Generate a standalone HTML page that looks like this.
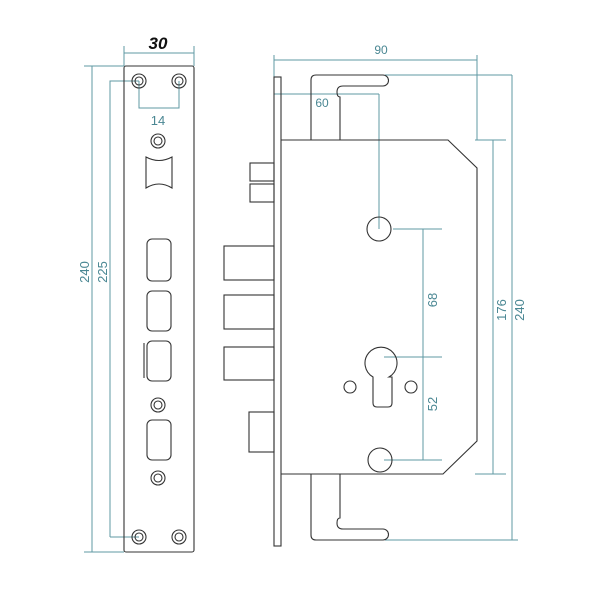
<!DOCTYPE html>
<html><head><style>
html,body{margin:0;padding:0;background:#fff;}
svg{display:block;}
text{font-family:"Liberation Sans",sans-serif;}
</style></head><body>
<svg width="600" height="600" viewBox="0 0 600 600" xmlns="http://www.w3.org/2000/svg">
<g fill="none" stroke="#5f98a3" stroke-width="1">
  <line x1="124" y1="53" x2="194" y2="53"/>
  <line x1="124" y1="46" x2="124" y2="66"/><line x1="194" y1="46" x2="194" y2="66"/>
  <line x1="84" y1="66" x2="124" y2="66"/><line x1="84" y1="552" x2="124" y2="552"/>
  <line x1="92" y1="66" x2="92" y2="552"/>
  <polyline points="110,537 110,81 139,81"/>
  <line x1="110" y1="537" x2="139" y2="537"/>
  <polyline points="139,81 139,108 179,108 179,81"/>
  <line x1="274" y1="60" x2="477" y2="60"/>
  <line x1="274" y1="55" x2="274" y2="77"/><line x1="477" y1="55" x2="477" y2="140"/>
  <line x1="274" y1="94" x2="379" y2="94"/>
  <line x1="379" y1="94" x2="379" y2="229"/>
  <line x1="393" y1="229" x2="442" y2="229"/>
  <line x1="384" y1="357" x2="442" y2="357"/>
  <line x1="384" y1="460" x2="442" y2="460"/>
  <line x1="423" y1="229" x2="423" y2="460"/>
  <line x1="475" y1="140" x2="506" y2="140"/><line x1="475" y1="474" x2="506" y2="474"/>
  <line x1="493" y1="140" x2="493" y2="474"/>
  <line x1="385" y1="75" x2="512" y2="75"/><line x1="385" y1="540" x2="518" y2="540"/>
  <line x1="512" y1="75" x2="512" y2="540"/>
</g>
<g fill="#4a8793" font-size="13">
  <text x="381" y="54" text-anchor="middle" font-size="12">90</text>
  <text x="322" y="107" text-anchor="middle" font-size="12">60</text>
  <text x="158" y="125" text-anchor="middle">14</text>
  <text transform="translate(89,272) rotate(-90)" text-anchor="middle">240</text>
  <text transform="translate(107,272) rotate(-90)" text-anchor="middle">225</text>
  <text transform="translate(437,300) rotate(-90)" text-anchor="middle">68</text>
  <text transform="translate(437,404) rotate(-90)" text-anchor="middle">52</text>
  <text transform="translate(506,310) rotate(-90)" text-anchor="middle">176</text>
  <text transform="translate(524,310) rotate(-90)" text-anchor="middle">240</text>
</g>
<text x="158" y="49" text-anchor="middle" font-size="17" font-weight="bold" font-style="italic" fill="#111">30</text>
<g fill="none" stroke="#333" stroke-width="1.1">
  <rect x="124" y="66" width="70" height="486" rx="2"/>
  <circle cx="139" cy="81" r="7"/><circle cx="139" cy="81" r="4"/>
  <circle cx="179" cy="81" r="7"/><circle cx="179" cy="81" r="4"/>
  <circle cx="139" cy="537" r="7"/><circle cx="139" cy="537" r="4"/>
  <circle cx="179" cy="537" r="7"/><circle cx="179" cy="537" r="4"/>
  <circle cx="158" cy="141" r="7"/><circle cx="158" cy="141" r="4"/>
  <circle cx="158" cy="405" r="7"/><circle cx="158" cy="405" r="4"/>
  <circle cx="158" cy="478" r="7"/><circle cx="158" cy="478" r="4"/>
  <path d="M146,157 Q159,164 172,157 L172,188 Q159,180 146,188 Z"/>
  <rect x="147" y="239" width="24" height="42" rx="5"/>
  <rect x="147" y="291" width="24" height="40" rx="5"/>
  <rect x="147" y="341" width="24" height="40" rx="5"/>
  <line x1="144" y1="343" x2="144" y2="378"/>
  <rect x="147" y="420" width="24" height="40" rx="5"/>
  <rect x="274" y="77" width="7" height="469"/>
  <path d="M281,140 L448,140 L477,168 L477,441 L443,474 L281,474"/>
  <path d="M311,140 L311,80 Q311,75 316,75 L383,75 A5.5,5.5 0 0 1 383,86 L343,86 Q337,86 337,92 Q337,97 340,97 L340,140"/>
  <path d="M311,474 L311,535 Q311,540 316,540 L383,540 A5.5,5.5 0 0 0 383,529 L343,529 Q337,529 337,523 Q337,518 340,518 L340,474"/>
  <rect x="250" y="163" width="24" height="18"/>
  <rect x="250" y="184" width="24" height="18"/>
  <rect x="224" y="246" width="50" height="34"/>
  <rect x="224" y="295" width="50" height="34"/>
  <rect x="224" y="347" width="50" height="33"/>
  <rect x="249" y="412" width="25" height="40"/>
  <circle cx="379" cy="229" r="12"/>
  <circle cx="380" cy="460" r="12"/>
  <circle cx="350" cy="387" r="6"/>
  <circle cx="411" cy="387" r="6"/>
  <path d="M373,377 A16,16 0 1 1 389,377 L392,377 L392,403 Q392,407 388,407 L377,407 Q373,407 373,403 Z"/>
</g>
</svg>
</body></html>
